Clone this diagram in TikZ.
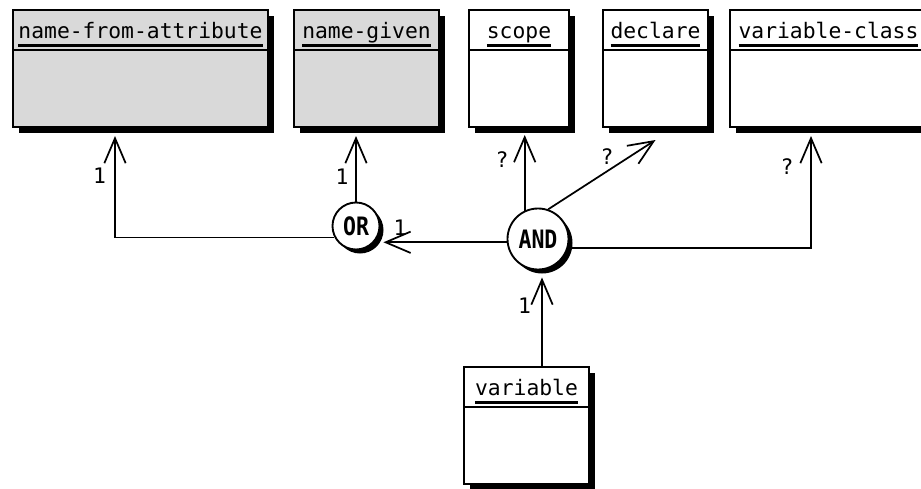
\documentclass[tikz,border=0pt]{standalone}
\usepackage{fontspec}
\setmonofont{DejaVu Sans Mono}
\newfontfamily\gatefont{DejaVu Sans Mono}[FakeStretch=0.85]
\usetikzlibrary{arrows.meta,calc,shadows}
\definecolor{entfill}{HTML}{D9D9D9}
% class name with a heavy underline
\newcommand{\clsname}[1]{\setbox0=\hbox{#1}\rlap{\rule[-6.4pt]{\wd0}{1.8pt}}\box0}

\begin{document}
\begin{tikzpicture}[
  x=0.75pt, y=-0.75pt,
  font=\ttfamily\fontsize{16}{19}\selectfont,
  hd/.style={draw, fill=white, line width=1.4pt, outer sep=0pt, anchor=north west, minimum height=30pt, text height=12pt, text depth=0pt, inner xsep=3pt,
             drop shadow={shadow xshift=4.5pt, shadow yshift=-4.5pt, opacity=1, fill=black}},
  bd/.style={hd, anchor=north, minimum height=57.75pt},
  ent/.style={fill=entfill},
  gate/.style={circle, draw, fill=white, line width=1.4pt, inner sep=0pt, font=\gatefont\bfseries\fontsize{19}{22}\selectfont,
               drop shadow={shadow xshift=3pt, shadow yshift=-3pt, opacity=1, fill=black}},
  arr/.style={-{Straight Barb[length=18.75pt, width=16pt]}, line width=1.3pt},
  lbl/.style={inner sep=0pt}
]
  \useasboundingbox (0,0) rectangle (921,489);
  \fill[white] (0,0) rectangle (921,489);
  \clip (0,0) rectangle (921,489);

  % classes
  \node[hd, ent, minimum width=191.25pt] (nfa) at (13,10) {\clsname{name-from-attribute}};
  \node[bd, ent, minimum width=191.25pt] (nfa-b) at (nfa.south) {};
  \node[hd, ent, minimum width=108.75pt] (ng) at (294,10) {\clsname{name-given}};
  \node[bd, ent, minimum width=108.75pt] (ng-b) at (ng.south) {};
  \node[hd, minimum width=75pt] (scope) at (469,10) {\clsname{scope}};
  \node[bd, minimum width=75pt] (scope-b) at (scope.south) {};
  \node[hd, minimum width=78.75pt] (decl) at (603,10) {\clsname{declare}};
  \node[bd, minimum width=78.75pt] (decl-b) at (decl.south) {};
  \node[hd, minimum width=147.75pt] (vc) at (730,10) {\clsname{variable-class}};
  \node[bd, minimum width=147.75pt] (vc-b) at (vc.south) {};
  \node[hd, minimum width=93.75pt] (var) at (464,367) {\clsname{variable}};
  \node[bd, minimum width=93.75pt] (var-b) at (var.south) {};

  % gates
  \node[gate, minimum size=35.25pt] (or) at (356,226) {OR};
  \node[gate, minimum size=45.75pt] (and) at (538,239) {AND};

  % links
  \draw[arr] (or.208) -| ($(nfa-b.south)+(-25.5,9)$);
  \draw[arr] (or.north) -- ($(or.north |- ng-b.south)+(0,9)$);
  \draw[arr] (and.186) -- ($(or.east |- and.186)+(3,0)$);
  \draw[arr] (and.115) -- ($(and.115 |- scope-b.south)+(0,8)$);
  \draw[arr] (and.71) -- ($(decl-b.south)+(0,13)$);
  \draw[arr] (and.343) -| ($(vc-b.south)+(-17.5,9)$);
  \draw[arr] ($(var.north)+(15.5,0)$) -- ($(var.north |- and.south)+(15.5,7)$);

  % multiplicities
  \node[lbl] (m-nfa) at (99.5,175.5) {1};
  \node[lbl] (m-ng) at (342,177) {1};
  \node[lbl] (m-scope) at (502,160) {?};
  \node[lbl] (m-decl) at (607,157) {?};
  \node[lbl] (m-or) at (400,227.5) {1};
  \node[lbl] (m-vc) at (787,166.5) {?};
  \node[lbl] (m-var) at (524.5,305.5) {1};
\end{tikzpicture}
\end{document}
